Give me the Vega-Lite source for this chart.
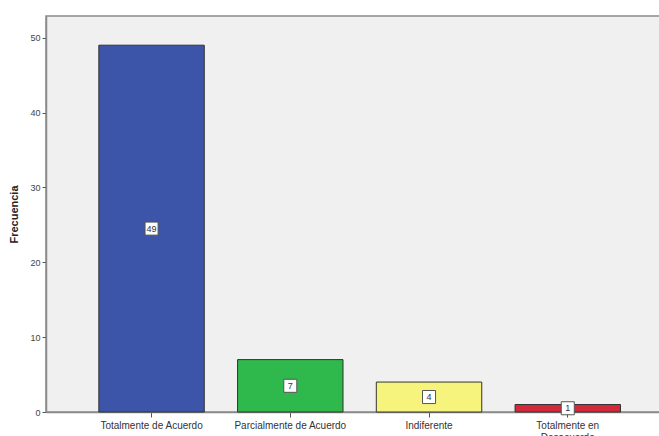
{
  "$schema": "https://vega.github.io/schema/vega-lite/v6.json",
  "width": 616,
  "height": 396,
  "autosize": {"type": "none"},
  "padding": {"left": 46, "top": 16, "right": 0, "bottom": 24},
  "background": "#ffffff",
  "config": {
    "view": {"fill": "#f0f0f0", "stroke": "#8a8a8a", "strokeWidth": 1.5},
    "font": "Liberation Sans"
  },
  "data": {
    "values": [
      {"cat": "Totalmente de Acuerdo", "n": 49},
      {"cat": "Parcialmente de Acuerdo", "n": 7},
      {"cat": "Indiferente", "n": 4},
      {"cat": "Totalmente en Desacuerdo", "n": 1}
    ]
  },
  "encoding": {
    "x": {
      "field": "cat",
      "type": "nominal",
      "sort": null,
      "scale": {"paddingInner": 0.24, "paddingOuter": 0.34, "align": 0.56},
      "axis": {
        "title": null,
        "labelAngle": 0,
        "labelFontSize": 10,
        "labelColor": "#333333",
        "labelPadding": 3,
        "tickColor": "#555555",
        "tickSize": 5,
        "domainColor": "#8a8a8a",
        "domainWidth": 1.5,
        "labelExpr": "datum.value == 'Totalmente en Desacuerdo' ? ['Totalmente en', 'Desacuerdo'] : datum.value"
      }
    }
  },
  "layer": [
    {
      "mark": {"type": "bar", "stroke": "#333333", "strokeWidth": 1},
      "encoding": {
        "y": {
          "field": "n",
          "type": "quantitative",
          "scale": {"domain": [0, 52.9], "nice": false},
          "axis": {
            "title": "Frecuencia",
            "titleFontSize": 11,
            "titleFontWeight": "bold",
            "titleColor": "#222222",
            "titlePadding": 10,
            "values": [0, 10, 20, 30, 40, 50],
            "labelFontSize": 9,
            "labelColor": "#444444",
            "tickColor": "#555555",
            "tickSize": 4,
            "grid": false,
            "domainColor": "#8a8a8a",
            "domainWidth": 1.5
          }
        },
        "color": {
          "field": "cat",
          "type": "nominal",
          "sort": null,
          "legend": null,
          "scale": {
            "domain": ["Totalmente de Acuerdo", "Parcialmente de Acuerdo", "Indiferente", "Totalmente en Desacuerdo"],
            "range": ["#3c55a8", "#2fb84b", "#f6f47c", "#d3293a"]
          }
        }
      }
    },
    {
      "transform": [{"calculate": "datum.n / 2", "as": "mid"}],
      "mark": {"type": "point", "shape": "square", "filled": true, "fill": "#ffffff", "stroke": "#555555", "strokeWidth": 1, "opacity": 1, "size": 170},
      "encoding": {
        "y": {"field": "mid", "type": "quantitative"}
      }
    },
    {
      "transform": [{"calculate": "datum.n / 2", "as": "mid"}],
      "mark": {"type": "text", "fontSize": 9, "color": "#333333", "baseline": "middle", "align": "center"},
      "encoding": {
        "y": {"field": "mid", "type": "quantitative"},
        "text": {"field": "n", "type": "quantitative"}
      }
    }
  ]
}
